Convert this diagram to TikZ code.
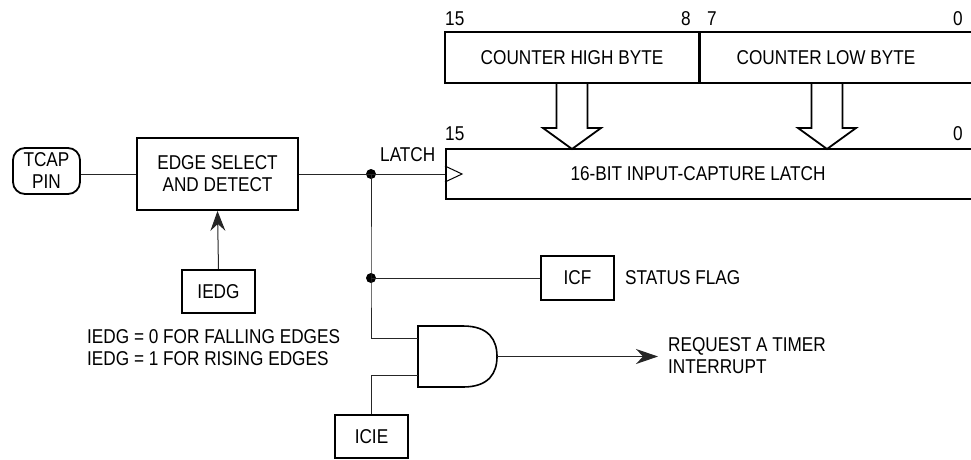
\documentclass[tikz,border=0pt]{standalone}
\usepackage{fontspec}
\setmainfont{Liberation Sans}[FakeStretch=0.86]
\usetikzlibrary{arrows.meta}
\newcommand\fs{\fontsize{20}{22}\selectfont}
\begin{document}
\begin{tikzpicture}[x=1pt,y=-1pt,
  box/.style={draw, line width=1.8pt, inner sep=0pt, align=center, font=\fs},
  wire/.style={line width=1pt, draw=black!85},
  lbl/.style={inner sep=0pt, font=\fs},
  dot/.style={circle, fill, inner sep=0pt, minimum size=10pt}]
\useasboundingbox (0,0) rectangle (971,459);
% boxes
\node[box, rounded corners=12pt, minimum width=67pt, minimum height=46pt] (tcap) at (46.5,171) {TCAP\\PIN};
\node[box, minimum width=161pt, minimum height=72pt] (edge) at (217.5,174) {EDGE SELECT\\AND DETECT};
\node[box, minimum width=73pt, minimum height=43pt] (iedg) at (218.5,291.5) {IEDG};
\node[box, minimum width=254pt, minimum height=51pt] (hi) at (572,57.5) {COUNTER HIGH BYTE};
\node[box, minimum width=300pt, minimum height=51pt, anchor=west] (lo) at (699,57.5) {};
\node[lbl] (lotext) at (826,57.5) {COUNTER LOW BYTE};
\node[box, minimum width=560pt, minimum height=50pt, anchor=west] (latch) at (445,174) {};
\node[lbl] (latchtext) at (698,174) {16-BIT INPUT-CAPTURE LATCH};
\node[box, minimum width=73pt, minimum height=44pt] (icf) at (577.5,278) {ICF};
\node[box, minimum width=73pt, minimum height=43pt] (icie) at (371.5,436.5) {ICIE};
% bit labels
\node[lbl, anchor=west] (b15a) at (445,18.5) {15};
\node[lbl, anchor=east] (b8) at (691,18.5) {8};
\node[lbl, anchor=west] (b7) at (707,18.5) {7};
\node[lbl, anchor=east] (b0a) at (963,18.5) {0};
\node[lbl, anchor=west] (b15b) at (445,133.5) {15};
\node[lbl, anchor=east] (b0b) at (963,133.5) {0};
% texts
\node[lbl, anchor=west] (latchlbl) at (380,155) {LATCH};
\node[lbl, anchor=west] (status) at (625,278) {STATUS FLAG};
\node[lbl, anchor=west, align=left] (req) at (668,356) {REQUEST A TIMER\\INTERRUPT};
\node[lbl, anchor=west, align=left] (note) at (87,348) {IEDG = 0 FOR FALLING EDGES\\IEDG = 1 FOR RISING EDGES};
% hollow arrows
\draw[line width=1.8pt, line join=miter] (556.5,83) -- (556.5,128) -- (543,128) -- (572,149) -- (601,128) -- (587.5,128) -- (587.5,83);
\draw[line width=1.8pt, line join=miter] (811.5,83) -- (811.5,128) -- (798,128) -- (827,149) -- (856,128) -- (842.5,128) -- (842.5,83);
% clock marker
\draw[line width=1pt] (445,166) -- (462,174) -- (445,182);
% junctions and gate
\coordinate (j1) at (371,174);
\coordinate (j2) at (371,278);
\coordinate (in1) at (418,338);
\coordinate (in2) at (418,375);
\coordinate (gout) at (497,356.5);
\coordinate (tip) at (658,356.5);
\node[dot] (d1) at (j1) {};
\node[dot] (d2) at (j2) {};
\draw[line width=1.6pt] (418,326) -- (463,326) .. controls (489,326) and (497,340) .. (497,356.5) .. controls (497,373) and (489,387) .. (463,387) -- (418,387) -- cycle;
% wires
\draw[wire] (edge.west) -- (edge.west -| tcap.east);
\draw[wire] (edge.east) -- (latch.west);
\draw[wire] (j1) -- (j2) |- (in1);
\draw[wire] (j2) -- (icf.west);
\draw[wire] (icie.north) |- (in2);
\draw[wire, -{Stealth[length=22pt, width=15pt, inset=7pt]}] (gout) -- (tip);
\draw[wire, -{Stealth[length=20pt, width=15pt, inset=7pt]}] (iedg.north) -- (edge.south);
\end{tikzpicture}
\end{document}
